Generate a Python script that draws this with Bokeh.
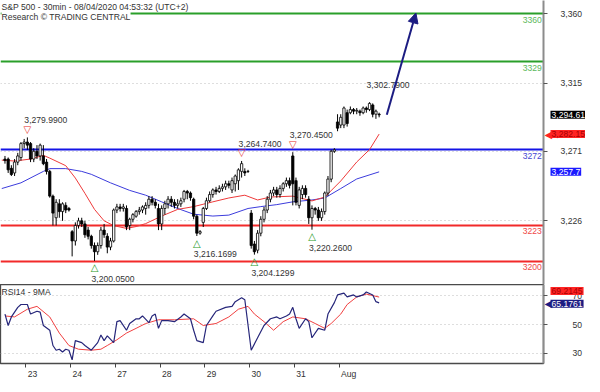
from bokeh.plotting import figure
from bokeh.layouts import column, row
from bokeh.models import (Range1d, FixedTicker, NumeralTickFormatter, Label, Arrow,
                          NormalHead, ColumnDataSource)
from bokeh.core.properties import value
from bokeh.embed import file_html
from bokeh.resources import INLINE

# ---------------- data ----------------
title_1 = "S&P 500 - 30min - 08/04/2020 04:53:32 (UTC+2)"
title_2 = "Research \u00a9 TRADING CENTRAL"

bars = list(range(118))
opens = [3266, 3266, 3260, 3257, 3264, 3267, 3276, 3277, 3276, 3266,
         3271, 3268, 3268, 3264, 3258, 3242, 3228, 3237, 3232, 3236,
         3234, 3219, 3213, 3223, 3226, 3224, 3220, 3216, 3210, 3206,
         3210, 3220, 3216, 3209, 3213, 3233, 3235, 3234, 3234, 3223,
         3227, 3229, 3232, 3233, 3234, 3236, 3240, 3238, 3234, 3224,
         3234, 3237, 3240, 3238, 3236, 3237, 3240, 3245, 3244, 3240,
         3229, 3218, 3225, 3234, 3239, 3243, 3246, 3245, 3247, 3248,
         3250, 3246, 3250, 3252, 3258, 3258, 3258, 3231, 3211, 3207,
         3218, 3227, 3233, 3240, 3244, 3246, 3243, 3247, 3250, 3252,
         3268, 3252, 3236, 3243, 3247, 3240, 3228, 3234, 3233, 3228,
         3232, 3244, 3253, 3271, 3290, 3288, 3288, 3296, 3296, 3298,
         3297, 3297, 3296, 3299, 3298, 3301, 3295, 3295]
highs = [3268, 3267, 3262, 3266, 3270, 3277, 3279, 3279.99, 3277, 3273,
         3275, 3276, 3275, 3266, 3259, 3243, 3240, 3240, 3238, 3238,
         3235, 3220, 3225, 3228, 3228, 3226, 3222, 3217, 3212, 3212,
         3222, 3224, 3218, 3215, 3234, 3237, 3237, 3237, 3236, 3228,
         3231, 3233, 3235, 3236, 3238, 3242, 3242, 3240, 3237, 3236,
         3239, 3242, 3242, 3240, 3240, 3241, 3246, 3246, 3245, 3241,
         3230, 3220, 3235, 3241, 3245, 3247, 3248, 3249, 3250, 3252,
         3252, 3254, 3256, 3260, 3264.74, 3260, 3259, 3233, 3213, 3220,
         3229, 3235, 3242, 3246, 3248, 3248, 3249, 3251, 3254, 3254,
         3270.45, 3254, 3248, 3249, 3249, 3242, 3236, 3235, 3235, 3234,
         3245, 3255, 3272, 3273, 3295, 3295, 3300, 3298, 3300, 3299,
         3299, 3298, 3300, 3300, 3302.79, 3302, 3298, 3296]
lows = [3263, 3257, 3255, 3255, 3262, 3265, 3273, 3272, 3264, 3264,
        3266, 3265, 3262, 3256, 3241, 3223, 3223, 3228, 3226, 3231,
        3232, 3203, 3210, 3221, 3222, 3215, 3214, 3208, 3200.05, 3204,
        3208, 3215, 3205, 3207, 3212, 3231, 3232, 3232, 3220, 3220,
        3225, 3228, 3230, 3231, 3230, 3234, 3236, 3234, 3220, 3220,
        3230, 3234, 3235, 3234, 3234, 3235, 3238, 3240, 3239, 3227,
        3216.17, 3217, 3222, 3233, 3238, 3241, 3243, 3244, 3245, 3246,
        3247, 3244, 3245, 3246, 3254, 3255, 3257, 3208, 3204.13, 3205,
        3216, 3225, 3231, 3238, 3242, 3241, 3241, 3245, 3248, 3247,
        3236, 3236, 3234, 3240, 3241, 3224, 3220.26, 3230, 3226, 3226,
        3230, 3242, 3251, 3270, 3284, 3286, 3286, 3287, 3295, 3295,
        3295, 3294, 3295, 3296, 3297, 3293, 3292, 3293]
closes = [3265, 3259, 3256, 3264, 3268, 3276, 3277, 3275, 3266, 3271,
          3268, 3275, 3263, 3258, 3242, 3231, 3238, 3232, 3237, 3233,
          3233, 3213, 3223, 3226, 3224, 3217, 3216, 3210, 3206, 3210,
          3220, 3217, 3209, 3213, 3233, 3235, 3234, 3235, 3222, 3227,
          3230, 3232, 3233, 3235, 3236, 3240, 3238, 3236, 3224, 3234,
          3237, 3240, 3238, 3236, 3237, 3239, 3245, 3244, 3241, 3229,
          3218, 3219, 3234, 3239, 3243, 3246, 3245, 3247, 3248, 3250,
          3249, 3252, 3255, 3259, 3263, 3257, 3258, 3210, 3206, 3218,
          3227, 3233, 3240, 3244, 3246, 3243, 3247, 3250, 3252, 3249,
          3250, 3238, 3246, 3247, 3243, 3228, 3234, 3233, 3228, 3232,
          3244, 3253, 3271, 3272, 3286, 3293, 3299, 3289, 3298, 3297,
          3297.5, 3296, 3299, 3298, 3302, 3295, 3297, 3294.61]

ma_fast_bar = [-1, 3, 8, 12, 14, 19, 22, 25, 28, 31, 34, 38, 41, 44, 49, 54, 59,
               65, 70, 75, 79, 83, 90, 96, 100, 105, 110, 114, 117]
ma_fast_val = [3265.3, 3264.7, 3266, 3268.4, 3266.6, 3261.7, 3253.7, 3243.8, 3233.4,
               3226, 3222.9, 3221.1, 3222.3, 3224.2, 3229.1, 3233.4, 3235.2, 3238.3,
               3240.8, 3242.6, 3239.5, 3241.4, 3242, 3238.9, 3241.4, 3251.8, 3264.1,
               3272.1, 3282.15]
ma_slow_bar = [-1, 5, 12, 14, 19, 24, 27, 33, 39, 44, 49, 54, 59, 65, 70, 76, 80,
               85, 90, 96, 100, 105, 110, 117]
ma_slow_val = [3246.9, 3250.6, 3258, 3259.8, 3259.8, 3258, 3256.1, 3250.6, 3245.7,
               3242.6, 3238.3, 3234, 3230.3, 3229.1, 3229.7, 3234, 3235.2, 3236.5,
               3238.3, 3239.5, 3240.8, 3246.9, 3253.1, 3257.7]

rsi_bar = [0, 1, 2, 4, 5, 7, 8, 10, 11, 12, 14, 15, 16, 17, 18, 19, 20, 21, 22, 24,
           25, 27, 29, 30, 31, 32, 34, 35, 36, 38, 39, 41, 42, 43, 45, 46, 47, 48, 49, 51,
           53, 55, 56, 58, 59, 60, 62, 63, 65, 66, 69, 71, 72, 74, 75, 77, 79, 81, 83, 85,
           86, 88, 89, 90, 91, 92, 94, 95, 96, 98, 100, 101, 103, 104, 106, 107, 109, 110,
           112, 113, 115, 116, 117]
rsi_val = [57.3, 49.3, 55.3, 62, 64, 64, 57.3, 59.3, 58.7, 49.3, 46, 35.3, 32, 32.7,
           30.7, 32.7, 32, 25.3, 38.7, 37.3, 35.3, 32, 37.3, 42.7, 38.7, 42, 37.3, 52,
           52.7, 46, 50.7, 54, 54, 56, 51.3, 56, 57.3, 47.3, 52.7, 52.7, 52, 55.3, 57.3,
           54, 46, 38.7, 37.3, 49.3, 56, 59.3, 62, 62.7, 66, 68.7, 67.3, 32, 40.7, 49.3,
           54, 55.3, 54, 56, 57.3, 62, 54, 47.3, 54, 52, 40.7, 47.3, 46, 57.3, 65.3,
           70.7, 72, 69.3, 70.7, 69.3, 70.7, 72.7, 70.7, 66, 65.18]
rsi_ma_bar = [0, 3, 7, 10, 14, 17, 20, 23, 27, 30, 32, 35, 38, 41, 44, 48, 53, 59,
              62, 66, 70, 73, 76, 78, 81, 84, 87, 90, 94, 97, 100, 102, 105, 107, 110,
              113, 117]
rsi_ma_val = [56, 55.3, 60.7, 62.7, 55.3, 44, 35.3, 32.7, 32, 32.7, 35.3, 39.3, 44,
              47.3, 50.7, 53.3, 53.3, 54, 49.3, 50.7, 55.3, 60.7, 62.7, 57.3, 52, 46, 52,
              55.3, 54, 50.7, 47.3, 50.7, 57.3, 64, 69.3, 71.3, 69.2]

level_vals = [3360, 3329, 3272, 3223, 3200]
level_text = ["3360", "3329", "3272", "3223", "3200"]

pivot_hi_bar = [7, 74, 90, 114]
pivot_hi_val = [3279.99, 3264.74, 3270.45, 3302.79]
pivot_hi_text = ["3,279.9900", "3,264.7400", "3,270.4500", "3,302.7900"]
pivot_hi_marked = [True, True, True, False]
pivot_lo_bar = [28, 60, 78, 96]
pivot_lo_val = [3200.05, 3216.17, 3204.13, 3220.26]
pivot_lo_text = ["3,200.0500", "3,216.1699", "3,204.1299", "3,220.2600"]

arrow_bar = [119.4, 128.5]
arrow_val = [3294.6, 3360.5]

price_ticks = [3226, 3271, 3315, 3360]
rsi_ticks = [30, 50, 70]
day_bounds = [6.5, 20.5, 34.5, 48.5, 62.5, 76.5, 90.5, 104.5]
day_labels = ["23", "24", "27", "28", "29", "30", "31", "Aug"]

last_close, last_fast, last_slow = 3294.61, 3282.15, 3257.7
last_rsi_ma, last_rsi = 69.2145, 65.1761

# ---------------- layout / style ----------------
FONT = "Liberation Sans"
FS = "8.6px"
X0, X1 = -1.4, 168.4
MY0, MY1 = 3184.8, 3368.6
RY0, RY1 = 22.7, 78.0
FW, MH, RH, SW = 543, 284, 79, 41
ppu_m = MH / (MY1 - MY0)
ppu_r = RH / (RY1 - RY0)
ppx = FW / (X1 - X0)

GREEN, GREEN_T = "#2a9f2a", "#5cb85c"
BLUE, BLUE_T = "#1414e6", "#4646d2"
RED, RED_T = "#f22a2a", "#f04848"
level_colors = [GREEN, GREEN, BLUE, RED, RED]
level_tcolors = [GREEN_T, GREEN_T, BLUE_T, RED_T, RED_T]
NAVY = "#1c1c82"

xr = Range1d(X0, X1)
myr = Range1d(MY0, MY1)
ryr = Range1d(RY0, RY1)

p = figure(frame_width=FW, frame_height=MH, x_range=xr, y_range=myr,
           x_axis_location=None, y_axis_location="right", output_backend="svg",
           toolbar_location=None, min_border_left=0, min_border_top=0,
           min_border_bottom=0, min_border_right=SW, outline_line_color=None)
p.xgrid.visible = False
p.ygrid.ticker = FixedTicker(ticks=price_ticks)
p.ygrid.grid_line_color = "#bdbdbd"
p.ygrid.grid_line_dash = "1 3"

ax = p.yaxis[0]
ax.ticker = FixedTicker(ticks=price_ticks)
ax.formatter = NumeralTickFormatter(format="0,0")
ax.axis_line_color = "#8c8c8c"
ax.axis_line_width = 2
ax.major_tick_out = 4
ax.major_tick_in = 0
ax.minor_tick_out = 0
ax.minor_tick_in = 0
ax.major_tick_line_color = "#555555"
ax.major_label_standoff = 13
ax.major_label_text_font = FONT
ax.major_label_text_font_size = FS
ax.major_label_text_color = "#333333"

# support / resistance levels
p.hspan(y=level_vals, line_color=level_colors, line_width=2)
p.text(x=[X1 - 0.5] * len(level_vals), y=[v - 6 / ppu_m for v in level_vals],
       text=level_text, text_color=level_tcolors, text_align="right",
       text_baseline="middle", text_font=value(FONT), text_font_size=FS)

# moving averages
p.line(ma_slow_bar, ma_slow_val, line_color="#3c3cdc", line_width=1)
p.line(ma_fast_bar, ma_fast_val, line_color="#ee3a3a", line_width=1)

# candles
tops = [max(o, c) for o, c in zip(opens, closes)]
bots = [min(o, c) for o, c in zip(opens, closes)]
fills = ["white" if c >= o else "black" for o, c in zip(opens, closes)]
src = ColumnDataSource(dict(x=bars, h=highs, l=lows, top=tops, bot=bots, fill=fills))
p.segment(x0="x", y0="h", x1="x", y1="l", source=src, line_color="black", line_width=1)
p.vbar(x="x", width=0.72, top="top", bottom="bot", fill_color="fill",
       line_color="black", line_width=0.8, source=src)

# pivots
mk_b = [b for b, m in zip(pivot_hi_bar, pivot_hi_marked) if m]
mk_v = [v + 8 / ppu_m for v, m in zip(pivot_hi_val, pivot_hi_marked) if m]
p.text(x=mk_b, y=mk_v, text=["\u25bd"] * len(mk_b), text_color="#e52a2a",
       text_align="center", text_baseline="middle",
       text_font=value("DejaVu Sans"), text_font_size="10px")
p.text(x=pivot_lo_bar, y=[v - 7 / ppu_m for v in pivot_lo_val],
       text=["\u25b3"] * len(pivot_lo_bar), text_color="#2a9a2a",
       text_align="center", text_baseline="middle",
       text_font=value("DejaVu Sans"), text_font_size="10px")
p.text(x=[b - 3 / ppx for b in pivot_hi_bar], y=[v + 17 / ppu_m for v in pivot_hi_val],
       text=pivot_hi_text, text_color="#333333", text_align="left",
       text_baseline="middle", text_font=value(FONT), text_font_size=FS)
p.text(x=[b - 3 / ppx for b in pivot_lo_bar], y=[v - 18 / ppu_m for v in pivot_lo_val],
       text=pivot_lo_text, text_color="#333333", text_align="left",
       text_baseline="middle", text_font=value(FONT), text_font_size=FS)

# forecast arrow
p.add_layout(Arrow(end=NormalHead(size=10, fill_color=NAVY, line_color=NAVY),
                   x_start=arrow_bar[0], y_start=arrow_val[0],
                   x_end=arrow_bar[1], y_end=arrow_val[1],
                   line_color=NAVY, line_width=2))

# titles
p.add_layout(Label(x=X0 + 1 / ppx, y=MY1 - 6 / ppu_m, text=title_1, text_font=FONT,
                   text_font_size=FS, text_color="#333333", text_baseline="middle",
                   background_fill_color="white"))
p.add_layout(Label(x=X0 + 1 / ppx, y=MY1 - 16 / ppu_m, text=title_2, text_font=FONT,
                   text_font_size=FS, text_color="#333333", text_baseline="middle",
                   background_fill_color="white"))

# ---------------- RSI panel ----------------
r = figure(frame_width=FW, frame_height=RH, x_range=xr, y_range=ryr,
           y_axis_location="right", output_backend="svg", toolbar_location=None,
           min_border_left=0, min_border_top=0, min_border_bottom=0,
           min_border_right=SW, outline_line_color="#4a4a4a", outline_line_width=1.3)
r.xgrid.visible = False
r.ygrid.ticker = FixedTicker(ticks=rsi_ticks)
r.ygrid.grid_line_color = "#bdbdbd"
r.ygrid.grid_line_dash = "1 3"

ry = r.yaxis[0]
ry.ticker = FixedTicker(ticks=rsi_ticks)
ry.axis_line_color = "#8c8c8c"
ry.axis_line_width = 2
ry.major_tick_out = 4
ry.major_tick_in = 0
ry.minor_tick_out = 0
ry.minor_tick_in = 0
ry.major_tick_line_color = "#555555"
ry.major_label_standoff = 25
ry.major_label_text_font = FONT
ry.major_label_text_font_size = FS
ry.major_label_text_color = "#333333"

label_pos = [round(b + (2.1 if len(t) == 2 else 3.0), 2) for b, t in zip(day_bounds, day_labels)]
rx = r.xaxis[0]
rx.ticker = FixedTicker(ticks=label_pos, minor_ticks=day_bounds)
rx.major_label_overrides = {pos: t for pos, t in zip(label_pos, day_labels)}
rx.major_tick_out = 0
rx.major_tick_in = 0
rx.minor_tick_out = 4
rx.minor_tick_in = 0
rx.minor_tick_line_color = "#444444"
rx.axis_line_color = "#4a4a4a"
rx.major_label_standoff = 1
rx.major_label_text_font = FONT
rx.major_label_text_font_size = FS
rx.major_label_text_color = "#333333"

r.line(rsi_ma_bar, rsi_ma_val, line_color="#f04040", line_width=1)
r.line(rsi_bar, rsi_val, line_color="#26267a", line_width=1.2)

r.add_layout(Label(x=X0 + 1 / ppx, y=RY1 - 7 / ppu_r, text="RSI14 - 9MA", text_font=FONT,
                   text_font_size=FS, text_color="#333333", text_baseline="middle"))

# ---------------- transparent overlay strips for the price tags ----------------
def side_fig(yr, h):
    f = figure(frame_width=SW, frame_height=h, x_range=Range1d(0, SW), y_range=yr,
               x_axis_location=None, y_axis_location=None, output_backend="svg",
               toolbar_location=None, min_border_left=0, min_border_right=0,
               min_border_top=0, min_border_bottom=0, outline_line_color=None,
               background_fill_color=None, border_fill_color=None)
    f.xgrid.visible = False
    f.ygrid.visible = False
    return f

ps = side_fig(myr, MH)
rs = side_fig(ryr, RH)

def tag(fig, yv, txt, bg, fg, dy=0, pointer=False):
    if pointer:
        fig.add_layout(Label(x=0, y=yv, y_offset=dy, text="\u25c0",
                             text_font="DejaVu Sans", text_font_size="10px",
                             text_color=bg, text_baseline="middle"))
    fig.add_layout(Label(x=6, y=yv, y_offset=dy, text=txt,
                         text_font=FONT, text_font_size=FS, text_color=fg,
                         text_baseline="middle", background_fill_color=bg, padding=1))

tag(ps, last_close, "3,294.61", "black", "white")
tag(ps, last_fast, "3,282.15", "#ff2424", "#a80000", pointer=True)
tag(ps, last_slow, "3,257.7", "#1a1aff", "white")
tag(rs, last_rsi_ma, "69.2145", "#ff2424", "#a80000", dy=6)
tag(rs, last_rsi, "65.1761", NAVY, "white", dy=-1, pointer=True)

main_col = column(p, r, spacing=0)
side_col = column(ps, rs, spacing=0, styles={"margin-left": "-%dpx" % SW})
layout = row(main_col, side_col, spacing=0)
open("out.html", "w").write(file_html(layout, INLINE))
